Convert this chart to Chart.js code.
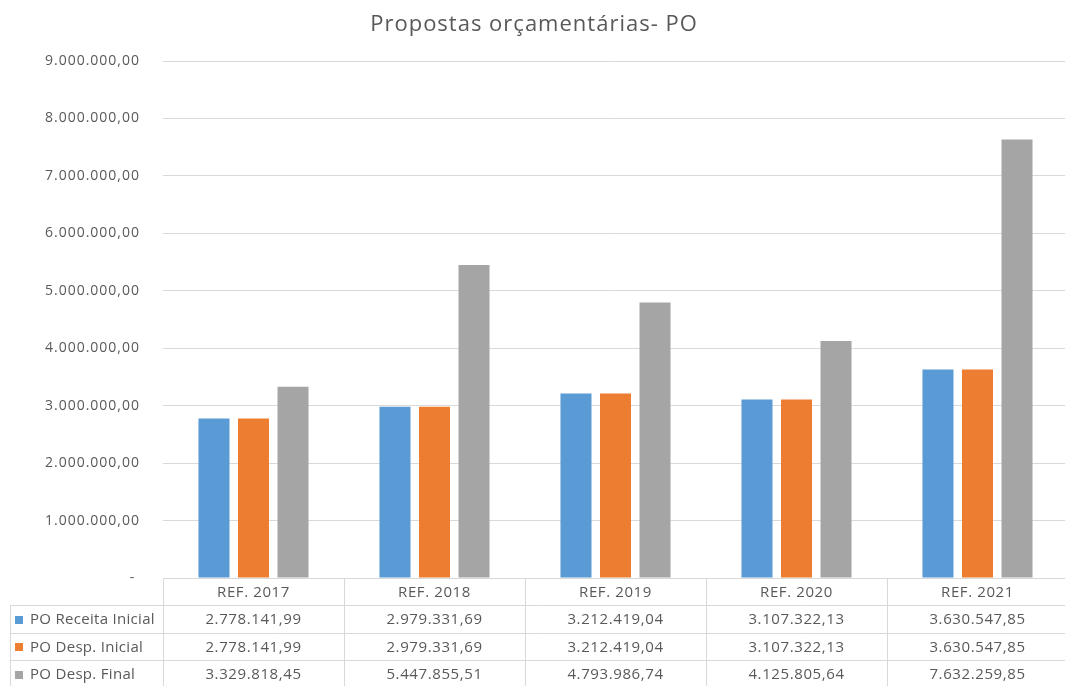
<!DOCTYPE html>
<html>
<head>
<meta charset="utf-8">
<script src="https://cdn.jsdelivr.net/npm/chart.js@4/dist/chart.umd.min.js"></script>
<style>
  html, body { margin: 0; padding: 0; background: #ffffff; overflow: hidden; }
  #wrap { width: 1068px; height: 686px; }
</style>
</head>
<body>
<div id="wrap"><canvas id="c" width="1068" height="686"></canvas></div>
<script>
const chartTitle = 'Propostas orçamentárias- PO';
const categories = ['REF. 2017', 'REF. 2018', 'REF. 2019', 'REF. 2020', 'REF. 2021'];
const seriesNames = ['PO Receita Inicial', 'PO Desp. Inicial', 'PO Desp. Final'];
const receitaInicial = [2778141.99, 2979331.69, 3212419.04, 3107322.13, 3630547.85];
const despInicial = [2778141.99, 2979331.69, 3212419.04, 3107322.13, 3630547.85];
const despFinal = [3329818.45, 5447855.51, 4793986.74, 4125805.64, 7632259.85];
const yMin = 0, yMax = 9000000, yStep = 1000000;
const seriesColors = ['#5B9BD5', '#ED7D31', '#A5A5A5'];

const TEXT = '#595959';
const LINE = '#D9D9D9';
const FONT = "'Open Sans', 'Liberation Sans', sans-serif";
const SPACING = '1px';

function fmt(v) {
  const parts = Math.abs(v).toFixed(2).split('.');
  return parts[0].replace(/\B(?=(\d{3})+(?!\d))/g, '.') + ',' + parts[1];
}

const seriesValues = [receitaInicial, despInicial, despFinal];

const spacingPlugin = {
  id: 'spacing',
  beforeUpdate(chart) { chart.ctx.letterSpacing = SPACING; },
  beforeDraw(chart) { chart.ctx.letterSpacing = SPACING; }
};

const tablePlugin = {
  id: 'dataTable',
  afterDraw(chart) {
    const ctx = chart.ctx;
    const area = chart.chartArea;
    const xs = chart.scales.x;
    const n = categories.length;
    const colW = (area.right - area.left) / n;
    const top = area.bottom;
    const headH = 27;
    const rowH = 27.5;
    const labelLeft = 10.5;
    ctx.save();
    ctx.strokeStyle = LINE;
    ctx.lineWidth = 1;
    ctx.beginPath();
    ctx.moveTo(area.left, Math.round(top) + 0.5);
    ctx.lineTo(area.right, Math.round(top) + 0.5);
    for (let r = 0; r <= seriesNames.length; r++) {
      const y = Math.round(top + headH + r * rowH) + 0.5;
      ctx.moveTo(labelLeft, y);
      ctx.lineTo(area.right, y);
    }
    for (let i = 0; i <= n; i++) {
      const x = Math.round(area.left + i * colW) + 0.5;
      ctx.moveTo(x, top);
      ctx.lineTo(x, top + headH + seriesNames.length * rowH);
    }
    ctx.moveTo(labelLeft, top + headH);
    ctx.lineTo(labelLeft, top + headH + seriesNames.length * rowH);
    ctx.stroke();

    ctx.fillStyle = TEXT;
    ctx.font = '15px ' + FONT;
    ctx.textBaseline = 'middle';
    ctx.textAlign = 'center';
    ctx.letterSpacing = '0.6px';
    categories.forEach((c, i) => {
      const cx = xs.getPixelForValue(i);
      ctx.fillText(c, cx, top + headH / 2 + 1);
    });
    seriesNames.forEach((name, r) => {
      const cy = top + headH + r * rowH + rowH / 2 + 1;
      ctx.fillStyle = seriesColors[r];
      ctx.fillRect(15, Math.round(cy - 4), 8, 8);
      ctx.fillStyle = TEXT;
      ctx.textAlign = 'left';
      ctx.letterSpacing = '0.3px';
      ctx.fillText(name, 30, cy);
      ctx.textAlign = 'center';
      ctx.letterSpacing = '0.6px';
      seriesValues[r].forEach((v, i) => {
        ctx.fillText(fmt(v), xs.getPixelForValue(i), cy);
      });
    });
    ctx.restore();
  }
};

new Chart(document.getElementById('c'), {
  type: 'bar',
  data: {
    labels: categories,
    datasets: seriesNames.map((name, i) => ({
      label: name,
      data: seriesValues[i],
      backgroundColor: seriesColors[i],
      borderWidth: 0,
      categoryPercentage: 0.655,
      barPercentage: 0.785
    }))
  },
  options: {
    responsive: false,
    animation: false,
    layout: { padding: { top: 0, left: 0, right: 0, bottom: 108 } },
    plugins: {
      legend: { display: false },
      tooltip: { enabled: false },
      title: {
        display: true,
        text: chartTitle,
        color: TEXT,
        font: { family: FONT, size: 22, weight: 'normal' },
        padding: { top: 12, bottom: 22.6 }
      }
    },
    scales: {
      x: { display: false },
      y: {
        min: yMin,
        max: yMax,
        border: { display: false },
        grid: { color: LINE, drawTicks: false, lineWidth: 1 },
        ticks: {
          stepSize: yStep,
          padding: 23,
          color: TEXT,
          font: { family: FONT, size: 14 },
          callback: (v) => v === 0 ? '- ' : fmt(v)
        },
        afterFit(scale) { scale.width = 163; }
      }
    }
  },
  plugins: [spacingPlugin, tablePlugin]
});
</script>
</body>
</html>
